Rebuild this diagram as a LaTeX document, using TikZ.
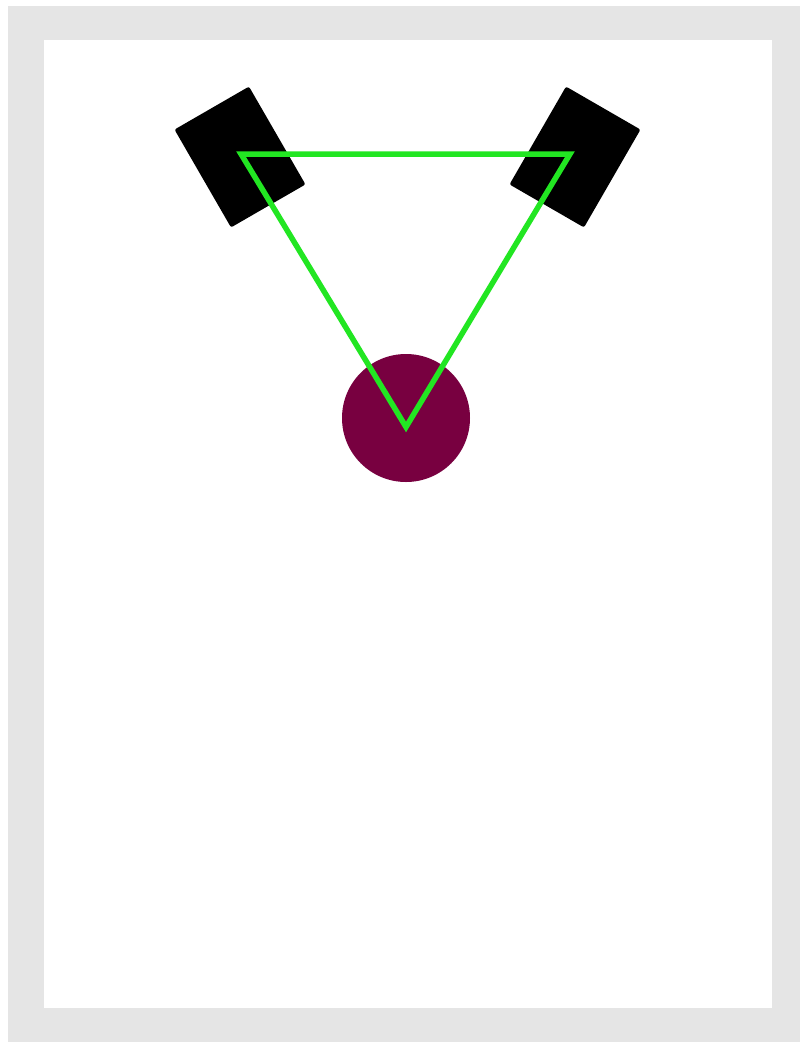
\documentclass[tikz,border=0pt]{standalone}
\begin{document}
\begin{tikzpicture}[x=1pt,y=-1pt,
  speaker/.style={fill=black,draw=none,rounded corners=2pt},
  beam/.style={draw={rgb,255:red,34;green,230;blue,34},line width=5.5pt,line join=miter}]
\definecolor{frame}{RGB}{229,229,229}
\definecolor{listener}{RGB}{120,0,64}
\useasboundingbox (0,0) rectangle (800,1042);
\fill[white] (0,0) rectangle (800,1042);
\fill[frame] (8,6) rectangle (800,1042);
\fill[white] (44,40) rectangle (772,1008);
\node[speaker,minimum width=86pt,minimum height=113pt,rotate=30,inner sep=0pt] (spL) at (240,157) {};
\node[speaker,minimum width=86pt,minimum height=113pt,rotate=-30,inner sep=0pt] (spR) at (575,157) {};
\node[circle,fill=listener,minimum size=128pt,inner sep=0pt] (lis) at (406,418) {};
\coordinate (a) at (241,154);
\coordinate (b) at (570,154);
\coordinate (c) at (406,427);
\draw[beam] (a) -- (b) -- (c) -- cycle;
\end{tikzpicture}
\end{document}
